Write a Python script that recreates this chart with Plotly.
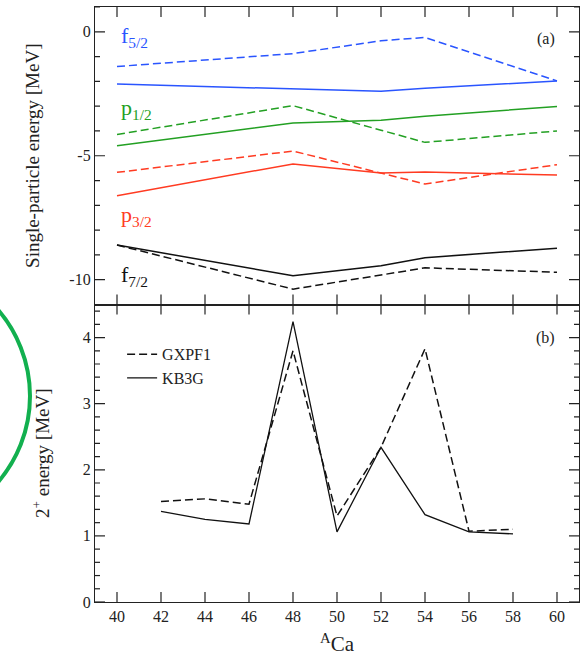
import plotly.graph_objects as go
from plotly.subplots import make_subplots

# ---- data ----
A_sp = [40, 48, 52, 54, 60]
f52_gx = [-1.40, -0.88, -0.36, -0.23, -1.98]
f52_kb = [-2.11, -2.31, -2.40, -2.28, -1.98]
p12_gx = [-4.14, -2.98, -3.97, -4.46, -4.00]
p12_kb = [-4.60, -3.68, -3.57, -3.41, -3.01]
p32_gx = [-5.67, -4.81, -5.70, -6.14, -5.36]
p32_kb = [-6.61, -5.33, -5.70, -5.66, -5.78]
f72_gx = [-8.60, -10.38, -9.81, -9.52, -9.70]
f72_kb = [-8.60, -9.84, -9.44, -9.11, -8.73]

A_2p = [42, 44, 46, 48, 50, 52, 54, 56, 58]
e2_gx = [1.52, 1.56, 1.48, 3.80, 1.30, 2.34, 3.83, 1.07, 1.10]
e2_kb = [1.37, 1.25, 1.18, 4.24, 1.06, 2.34, 1.32, 1.06, 1.03]

x_ticks = [40, 42, 44, 46, 48, 50, 52, 54, 56, 58, 60]
y1_ticks = [0, -5, -10]
y1_ticktext = ["0", "-5", "-10"]
y1_minor = [1, -1, -2, -3, -4, -6, -7, -8, -9, -11]
y2_ticks = [0, 1, 2, 3, 4]
y2_minor = [0.2, 0.4, 0.6, 0.8, 1.2, 1.4, 1.6, 1.8, 2.2, 2.4, 2.6, 2.8,
            3.2, 3.4, 3.6, 3.8, 4.2, 4.4]

BLUE = "#2a55ff"
GREEN = "#23a023"
RED = "#ff3b22"
BLACK = "#111111"
AXC = "#222222"
FONT = "Liberation Serif, Times New Roman, DejaVu Serif, serif"
DASH = "8px,4px"

XR = [39, 61]
Y1R = [-11, 1]
Y2R = [0, 4.5]

fig = make_subplots(rows=2, cols=1, shared_xaxes=False, vertical_spacing=0.0)

series = [
    (f52_gx, f52_kb, BLUE),
    (p12_gx, p12_kb, GREEN),
    (p32_gx, p32_kb, RED),
    (f72_gx, f72_kb, BLACK),
]
for gx, kb, col in series:
    fig.add_trace(go.Scatter(x=A_sp, y=gx, mode="lines", line=dict(color=col, width=1.5, dash=DASH),
                             showlegend=False), row=1, col=1)
    fig.add_trace(go.Scatter(x=A_sp, y=kb, mode="lines", line=dict(color=col, width=1.5),
                             showlegend=False), row=1, col=1)

fig.add_trace(go.Scatter(x=A_2p, y=e2_gx, mode="lines", name="GXPF1",
                         line=dict(color=BLACK, width=1.5, dash=DASH)), row=2, col=1)
fig.add_trace(go.Scatter(x=A_2p, y=e2_kb, mode="lines", name="KB3G",
                         line=dict(color=BLACK, width=1.3)), row=2, col=1)

for ax in ["xaxis", "xaxis2", "yaxis", "yaxis2"]:
    fig.layout[ax].update(showline=True, linecolor=AXC, linewidth=1.2, mirror=True,
                          ticks="", showgrid=False, zeroline=False, automargin=False,
                          tickfont=dict(family=FONT, size=16, color=AXC))

fig.layout.xaxis.update(range=XR, tickmode="array", tickvals=x_ticks, showticklabels=False)
fig.layout.xaxis2.update(range=XR, tickmode="array", tickvals=x_ticks,
                         title=dict(text="<sup>A</sup>Ca", font=dict(family=FONT, size=21, color=AXC),
                                    standoff=12))
fig.layout.yaxis.update(range=Y1R, tickmode="array", tickvals=y1_ticks, ticktext=y1_ticktext,
                        title=dict(text="Single-particle energy [MeV]",
                                   font=dict(family=FONT, size=19, color=AXC), standoff=24))
fig.layout.yaxis2.update(range=Y2R, tickmode="array", tickvals=y2_ticks,
                         title=dict(text="2<sup>+</sup> energy [MeV]",
                                    font=dict(family=FONT, size=19, color=AXC), standoff=28))

# inside tick marks on all four sides of each panel, in the axes' own data units
PANEL_PX_W, PANEL_PX_H = 484.0, 297.5
TL, TLm = 10, 5
tick_line = dict(color=AXC, width=1.2)
x_unit = (XR[1] - XR[0]) / PANEL_PX_W
for xr, yr, yrange in [("x", "y", Y1R), ("x2", "y2", Y2R)]:
    y_unit = (yrange[1] - yrange[0]) / PANEL_PX_H
    for xv in x_ticks:
        fig.add_shape(type="line", xref=xr, yref=yr, x0=xv, x1=xv,
                      y0=yrange[0], y1=yrange[0] + TL * y_unit, line=tick_line, layer="above")
        fig.add_shape(type="line", xref=xr, yref=yr, x0=xv, x1=xv,
                      y0=yrange[1] - TL * y_unit, y1=yrange[1], line=tick_line, layer="above")
for xr, yr, majors, minors in [("x", "y", y1_ticks, y1_minor), ("x2", "y2", y2_ticks, y2_minor)]:
    for vals, ln in [(majors, TL), (minors, TLm)]:
        for yv in vals:
            fig.add_shape(type="line", xref=xr, yref=yr, x0=XR[0], x1=XR[0] + ln * x_unit,
                          y0=yv, y1=yv, line=tick_line, layer="above")
            fig.add_shape(type="line", xref=xr, yref=yr, x0=XR[1] - ln * x_unit, x1=XR[1],
                          y0=yv, y1=yv, line=tick_line, layer="above")

labels = [
    ("f<sub>5/2</sub>", -0.2, BLUE),
    ("p<sub>1/2</sub>", -3.1, GREEN),
    ("p<sub>3/2</sub>", -7.45, RED),
    ("f<sub>7/2</sub>", -9.85, BLACK),
]
for txt, yv, col in labels:
    fig.add_annotation(x=40.1, y=yv, xref="x", yref="y", text=txt, showarrow=False,
                       xanchor="left", yanchor="middle", font=dict(family=FONT, size=22, color=col))

fig.add_annotation(x=60, y=-0.3, xref="x", yref="y", text="(a)", showarrow=False,
                   xanchor="right", yanchor="middle", font=dict(family=FONT, size=16, color=AXC))
fig.add_annotation(x=60, y=4.0, xref="x2", yref="y2", text="(b)", showarrow=False,
                   xanchor="right", yanchor="middle", font=dict(family=FONT, size=16, color=AXC))

# green circle overlay at the left edge
W, H = 584, 669
ml, mr, mt, mb = 95, 5, 7, 67
pw, ph = W - ml - mr, H - mt - mb
def px(x):
    return (x - ml) / pw
def py(y):
    return 1 - (y - mt) / ph
cx, cy, r = -102, 396, 132
fig.add_shape(type="circle", xref="paper", yref="paper",
              x0=px(cx - r), x1=px(cx + r), y0=py(cy + r), y1=py(cy - r),
              line=dict(color="#12b04f", width=4), fillcolor="rgba(0,0,0,0)", opacity=1)

fig.update_layout(
    width=W, height=H,
    margin=dict(l=ml, r=mr, t=mt, b=mb, autoexpand=False),
    plot_bgcolor="white", paper_bgcolor="white",
    font=dict(family=FONT, color=AXC),
    legend=dict(x=0.056, y=0.445, xanchor="left", yanchor="top", bgcolor="rgba(0,0,0,0)",
                font=dict(family=FONT, size=16, color=AXC), tracegroupgap=0),
)

fig.write_html("out.html", config={"displayModeBar": False},
               post_script="document.body.style.margin='0';document.body.style.overflow='hidden';")
